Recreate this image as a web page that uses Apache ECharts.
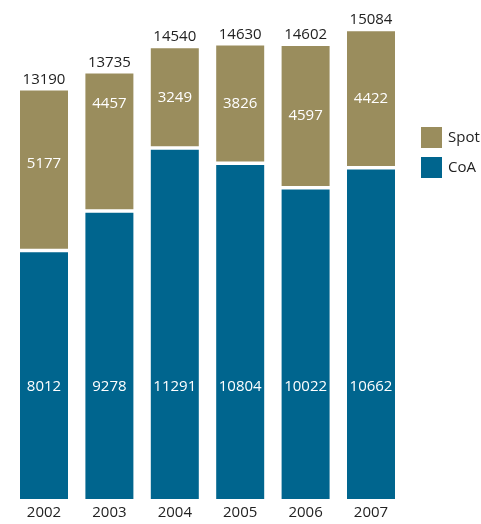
<!DOCTYPE html>
<html>
<head>
<meta charset="utf-8">
<script src="https://cdn.jsdelivr.net/npm/echarts@6/dist/echarts.min.js"></script>
<style>
  html, body { margin: 0; padding: 0; background: #fff; }
  #chart { width: 481px; height: 524px; }
</style>
</head>
<body>
<div id="chart"></div>
<script>
var years = ['2002', '2003', '2004', '2005', '2006', '2007'];
var coa = [8012, 9278, 11291, 10804, 10022, 10662];
var spot = [5177, 4457, 3249, 3826, 4597, 4422];
var totals = [13190, 13735, 14540, 14630, 14602, 15084];

var fontFamily = '"Open Sans", "Noto Sans", sans-serif';
var gapW = 1.75; // white border, gives the gap between the two parts
var barW = 48 + 2 * gapW;

var chart = echarts.init(document.getElementById('chart'));

var option = {
    animation: false,
    textStyle: { fontFamily: fontFamily },
    legend: {
        data: ['Spot', 'CoA'],
        orient: 'vertical',
        left: 414,
        top: 120,
        itemWidth: 23,
        itemHeight: 23,
        itemGap: 5,
        icon: 'rect',
        textStyle: { fontSize: 15, color: '#222', fontFamily: fontFamily }
    },
    grid: {
        left: 11.3,
        right: 77.3,
        top: 1,
        bottom: 23.25,
        containLabel: false
    },
    xAxis: {
        type: 'category',
        data: years,
        axisLine: { show: false },
        axisTick: { show: false },
        axisLabel: { fontSize: 15, color: '#222', margin: 4, fontFamily: fontFamily }
    },
    yAxis: {
        type: 'value',
        min: 0,
        max: 16000,
        show: false
    },
    series: [
        {
            name: 'CoA',
            type: 'bar',
            stack: 'all',
            barWidth: barW,
            barGap: '-100%',
            itemStyle: { color: '#00658e', borderColor: '#fff', borderWidth: gapW },
            label: {
                show: true,
                position: 'insideBottom',
                distance: 107,
                color: '#fff',
                fontSize: 15,
                fontFamily: fontFamily
            },
            data: coa
        },
        {
            name: 'Spot',
            type: 'bar',
            stack: 'all',
            barWidth: barW,
            barGap: '-100%',
            itemStyle: { color: '#9a8d5d', borderColor: '#fff', borderWidth: gapW },
            label: {
                show: true,
                position: 'inside',
                color: '#fff',
                fontSize: 15,
                fontFamily: fontFamily
            },
            data: spot.map(function (v, i) {
                // labels in 2002 and 2003 sit higher than the middle
                if (i === 0) return { value: v, label: { offset: [0, -6] } };
                if (i === 1) return { value: v, label: { offset: [0, -38] } };
                return v;
            })
        },
        {
            name: 'Total',
            type: 'bar',
            barWidth: barW,
            barGap: '-100%',
            silent: true,
            z: 1,
            itemStyle: { color: 'rgba(0,0,0,0)' },
            label: {
                show: true,
                position: 'top',
                distance: 2,
                color: '#222',
                fontSize: 15,
                fontFamily: fontFamily
            },
            data: totals
        }
    ]
};

chart.setOption(option);
</script>
</body>
</html>
